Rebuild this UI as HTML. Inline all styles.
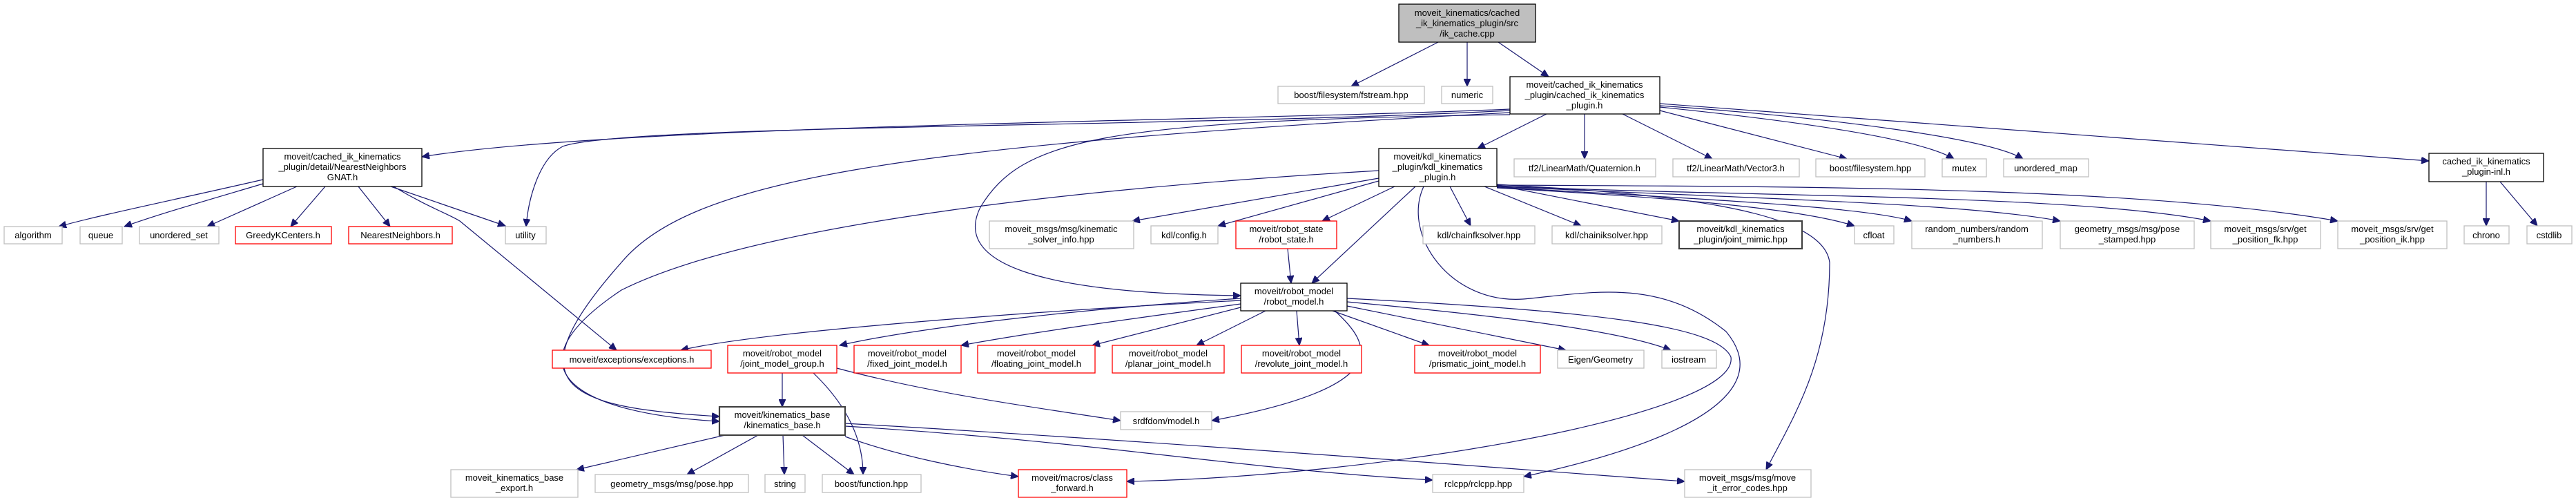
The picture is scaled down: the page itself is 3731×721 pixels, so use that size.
<!DOCTYPE html>
<html><head><meta charset="utf-8">
<style>
html,body{margin:0;padding:0;background:#fff;}
svg{display:block;}
text{font-family:"Liberation Sans","DejaVu Sans",sans-serif;font-size:13px;fill:#000;text-anchor:middle;}
.g{fill:#fff;stroke:#bfbfbf;stroke-width:1.3;}
.b{fill:#fff;stroke:#000;stroke-width:1.3;}
.d{fill:#fff;stroke:#404040;stroke-width:2.2;}
.r{fill:#fff;stroke:#ff0000;stroke-width:1.3;}
.e{fill:none;stroke:#191970;stroke-width:1.2;marker-end:url(#ah);}
</style></head><body>
<svg width="3731" height="721" viewBox="0 0 3731 721" xmlns="http://www.w3.org/2000/svg">
<defs><marker id="ah" markerUnits="userSpaceOnUse" markerWidth="12" markerHeight="10" refX="11" refY="5" orient="auto"><path d="M0,0 L11,5 L0,10 z" fill="#191970" stroke="#191970"/></marker></defs>

<!-- edges -->
<g>
<path class="e" d="M2083,61 L1957,125"/>
<path class="e" d="M2125,61 L2125,125"/>
<path class="e" d="M2170,61 L2243,111"/>
<path class="e" d="M2187,158 C1800,175 900,180 611,227"/>
<path class="e" d="M2187,160 C1700,185 900,180 815,212 C780,230 765,290 762,328"/>
<path class="e" d="M2187,163 C1300,210 1000,260 900,380 C740,560 820,590 1042,603"/>
<path class="e" d="M2187,166 C1600,175 1480,200 1420,300 C1380,380 1500,425 1797,428"/>
<path class="e" d="M2240,165 L2140,215"/>
<path class="e" d="M2295,165 L2295,230"/>
<path class="e" d="M2350,165 L2480,230"/>
<path class="e" d="M2404,160 C2500,185 2600,210 2675,230"/>
<path class="e" d="M2404,155 C2600,175 2780,200 2830,230"/>
<path class="e" d="M2404,153 C2650,170 2880,200 2930,230"/>
<path class="e" d="M2404,150 L3518,233"/>

<path class="e" d="M1997,258 L1640,320"/>
<path class="e" d="M1997,262 L1764,327"/>
<path class="e" d="M2020,270 L1915,320"/>
<path class="e" d="M2050,270 L1900,410"/>
<path class="e" d="M2062,270 C2030,340 2100,440 2206,433 C2300,425 2400,400 2500,480 C2600,600 2300,670 2207,690"/>
<path class="e" d="M2100,270 L2130,327"/>
<path class="e" d="M2150,270 L2290,327"/>
<path class="e" d="M2168,268 L2432,320"/>
<path class="e" d="M2168,272 C2400,285 2600,300 2686,327"/>
<path class="e" d="M2168,271 C2500,290 2700,300 2769,320"/>
<path class="e" d="M2168,270 C2600,290 2850,295 2984,320"/>
<path class="e" d="M2168,269 C2500,285 3000,280 3202,320"/>
<path class="e" d="M2168,268 C2600,270 3100,270 3386,320"/>
<path class="e" d="M2168,267 C2400,280 2640,300 2650,380 C2650,520 2600,600 2558,680"/>
<path class="e" d="M1997,247 C1600,270 1100,320 900,420 C720,540 850,600 1042,610"/>

<path class="e" d="M381,260 C250,290 150,310 85,328"/>
<path class="e" d="M381,266 C300,290 230,310 180,328"/>
<path class="e" d="M430,270 L300,328"/>
<path class="e" d="M471,270 L421,328"/>
<path class="e" d="M519,270 L565,328"/>
<path class="e" d="M566,270 L732,327"/>
<path class="e" d="M570,270 C620,300 650,310 666,320 L893,507"/>

<path class="e" d="M1865,360 L1870,410"/>
<path class="e" d="M1797,435 C1500,450 1100,480 986,507"/>
<path class="e" d="M1797,432 C1600,445 1350,470 1216,500"/>
<path class="e" d="M1797,440 C1650,460 1500,480 1392,500"/>
<path class="e" d="M1797,445 L1582,500"/>
<path class="e" d="M1833,450 L1733,500"/>
<path class="e" d="M1878,450 L1882,500"/>
<path class="e" d="M1930,450 L2070,500"/>
<path class="e" d="M1951,443 L2268,507"/>
<path class="e" d="M1951,437 C2200,460 2350,480 2420,507"/>
<path class="e" d="M1931,448 C1990,500 2020,560 1755,609"/>
<path class="e" d="M1951,432 C2300,450 2487,470 2507,517 C2520,600 2000,690 1632,697"/>

<path class="e" d="M1133,540 L1133,589"/>
<path class="e" d="M1212,533 C1350,570 1500,590 1623,609"/>
<path class="e" d="M1178,540 C1230,590 1250,640 1250,687"/>

<path class="e" d="M1050,630 L835,680"/>
<path class="e" d="M1098,630 L995,687"/>
<path class="e" d="M1134,630 L1136,687"/>
<path class="e" d="M1162,630 L1237,687"/>
<path class="e" d="M1224,632 C1300,660 1400,680 1475,690"/>
<path class="e" d="M1224,617 C1600,640 1800,680 2075,695"/>
<path class="e" d="M1224,613 C1700,640 2200,680 2440,697"/>

<path class="e" d="M3601,263 L3601,327"/>
<path class="e" d="M3621,263 L3675,327"/>
</g>

<!-- nodes -->
<rect x="2026" y="6" width="198" height="55" fill="#bfbfbf" stroke="#000" stroke-width="1.3"/>
<text x="2125" y="23">moveit_kinematics/cached</text><text x="2125" y="38">_ik_kinematics_plugin/src</text><text x="2125" y="53">/ik_cache.cpp</text>

<rect class="g" x="1851" y="125" width="212" height="25"/><text x="1957" y="142">boost/filesystem/fstream.hpp</text>
<rect class="g" x="2088" y="125" width="74" height="25"/><text x="2125" y="142">numeric</text>

<rect class="b" x="2187" y="111" width="217" height="54"/>
<text x="2295" y="127">moveit/cached_ik_kinematics</text><text x="2295" y="142">_plugin/cached_ik_kinematics</text><text x="2295" y="157">_plugin.h</text>

<rect class="b" x="381" y="215" width="230" height="55"/>
<text x="496" y="231">moveit/cached_ik_kinematics</text><text x="496" y="246">_plugin/detail/NearestNeighbors</text><text x="496" y="261">GNAT.h</text>

<rect class="b" x="1997" y="215" width="171" height="55"/>
<text x="2082" y="231">moveit/kdl_kinematics</text><text x="2082" y="246">_plugin/kdl_kinematics</text><text x="2082" y="261">_plugin.h</text>

<rect class="g" x="2193" y="230" width="205" height="26"/><text x="2295" y="248">tf2/LinearMath/Quaternion.h</text>
<rect class="g" x="2423" y="230" width="183" height="26"/><text x="2514" y="248">tf2/LinearMath/Vector3.h</text>
<rect class="g" x="2630" y="230" width="158" height="26"/><text x="2709" y="248">boost/filesystem.hpp</text>
<rect class="g" x="2813" y="230" width="64" height="26"/><text x="2845" y="248">mutex</text>
<rect class="g" x="2902" y="230" width="123" height="26"/><text x="2963" y="248">unordered_map</text>

<rect class="b" x="3518" y="222" width="166" height="41"/>
<text x="3601" y="238">cached_ik_kinematics</text><text x="3601" y="253">_plugin-inl.h</text>

<rect class="g" x="6" y="328" width="84" height="25"/><text x="48" y="345">algorithm</text>
<rect class="g" x="116" y="328" width="61" height="25"/><text x="146" y="345">queue</text>
<rect class="g" x="202" y="328" width="115" height="25"/><text x="259" y="345">unordered_set</text>
<rect class="r" x="341" y="328" width="139" height="25"/><text x="410" y="345">GreedyKCenters.h</text>
<rect class="r" x="505" y="328" width="150" height="25"/><text x="580" y="345">NearestNeighbors.h</text>
<rect class="g" x="732" y="328" width="59" height="25"/><text x="761" y="345">utility</text>

<rect class="g" x="1433" y="320" width="209" height="40"/><text x="1537" y="336">moveit_msgs/msg/kinematic</text><text x="1537" y="351">_solver_info.hpp</text>
<rect class="g" x="1667" y="327" width="97" height="26"/><text x="1715" y="345">kdl/config.h</text>
<rect class="r" x="1790" y="320" width="146" height="40"/><text x="1863" y="336">moveit/robot_state</text><text x="1863" y="351">/robot_state.h</text>
<rect class="g" x="2061" y="327" width="162" height="26"/><text x="2142" y="345">kdl/chainfksolver.hpp</text>
<rect class="g" x="2248" y="327" width="159" height="26"/><text x="2327" y="345">kdl/chainiksolver.hpp</text>
<rect class="d" x="2432" y="320" width="178" height="40"/><text x="2521" y="336">moveit/kdl_kinematics</text><text x="2521" y="351">_plugin/joint_mimic.hpp</text>
<rect class="g" x="2686" y="327" width="57" height="26"/><text x="2714" y="345">cfloat</text>
<rect class="g" x="2769" y="320" width="189" height="40"/><text x="2863" y="336">random_numbers/random</text><text x="2863" y="351">_numbers.h</text>
<rect class="g" x="2984" y="320" width="194" height="40"/><text x="3081" y="336">geometry_msgs/msg/pose</text><text x="3081" y="351">_stamped.hpp</text>
<rect class="g" x="3202" y="320" width="159" height="40"/><text x="3281" y="336">moveit_msgs/srv/get</text><text x="3281" y="351">_position_fk.hpp</text>
<rect class="g" x="3386" y="320" width="158" height="40"/><text x="3465" y="336">moveit_msgs/srv/get</text><text x="3465" y="351">_position_ik.hpp</text>
<rect class="g" x="3569" y="327" width="65" height="26"/><text x="3601" y="345">chrono</text>
<rect class="g" x="3660" y="327" width="65" height="26"/><text x="3692" y="345">cstdlib</text>

<rect class="b" x="1797" y="410" width="154" height="40"/><text x="1874" y="426">moveit/robot_model</text><text x="1874" y="441">/robot_model.h</text>

<rect class="r" x="800" y="507" width="230" height="26"/><text x="915" y="525">moveit/exceptions/exceptions.h</text>
<rect class="r" x="1054" y="500" width="158" height="40"/><text x="1133" y="516">moveit/robot_model</text><text x="1133" y="531">/joint_model_group.h</text>
<rect class="r" x="1237" y="500" width="155" height="40"/><text x="1314" y="516">moveit/robot_model</text><text x="1314" y="531">/fixed_joint_model.h</text>
<rect class="r" x="1416" y="500" width="170" height="40"/><text x="1501" y="516">moveit/robot_model</text><text x="1501" y="531">/floating_joint_model.h</text>
<rect class="r" x="1611" y="500" width="162" height="40"/><text x="1692" y="516">moveit/robot_model</text><text x="1692" y="531">/planar_joint_model.h</text>
<rect class="r" x="1798" y="500" width="174" height="40"/><text x="1885" y="516">moveit/robot_model</text><text x="1885" y="531">/revolute_joint_model.h</text>
<rect class="r" x="2049" y="500" width="182" height="40"/><text x="2140" y="516">moveit/robot_model</text><text x="2140" y="531">/prismatic_joint_model.h</text>
<rect class="g" x="2256" y="507" width="125" height="26"/><text x="2318" y="525">Eigen/Geometry</text>
<rect class="g" x="2407" y="507" width="79" height="26"/><text x="2446" y="525">iostream</text>

<rect class="g" x="1623" y="596" width="132" height="26"/><text x="1689" y="614">srdfdom/model.h</text>
<rect class="d" x="1042" y="589" width="182" height="41"/><text x="1133" y="605">moveit/kinematics_base</text><text x="1133" y="620">/kinematics_base.h</text>

<rect class="g" x="653" y="680" width="184" height="40"/><text x="745" y="696">moveit_kinematics_base</text><text x="745" y="711">_export.h</text>
<rect class="g" x="862" y="687" width="222" height="26"/><text x="973" y="705">geometry_msgs/msg/pose.hpp</text>
<rect class="g" x="1108" y="687" width="58" height="26"/><text x="1137" y="705">string</text>
<rect class="g" x="1191" y="687" width="143" height="26"/><text x="1262" y="705">boost/function.hpp</text>
<rect class="r" x="1475" y="680" width="157" height="40"/><text x="1553" y="696">moveit/macros/class</text><text x="1553" y="711">_forward.h</text>
<rect class="g" x="2075" y="687" width="132" height="26"/><text x="2141" y="705">rclcpp/rclcpp.hpp</text>
<rect class="g" x="2440" y="680" width="183" height="40"/><text x="2531" y="696">moveit_msgs/msg/move</text><text x="2531" y="711">_it_error_codes.hpp</text>
</svg>
</body></html>
